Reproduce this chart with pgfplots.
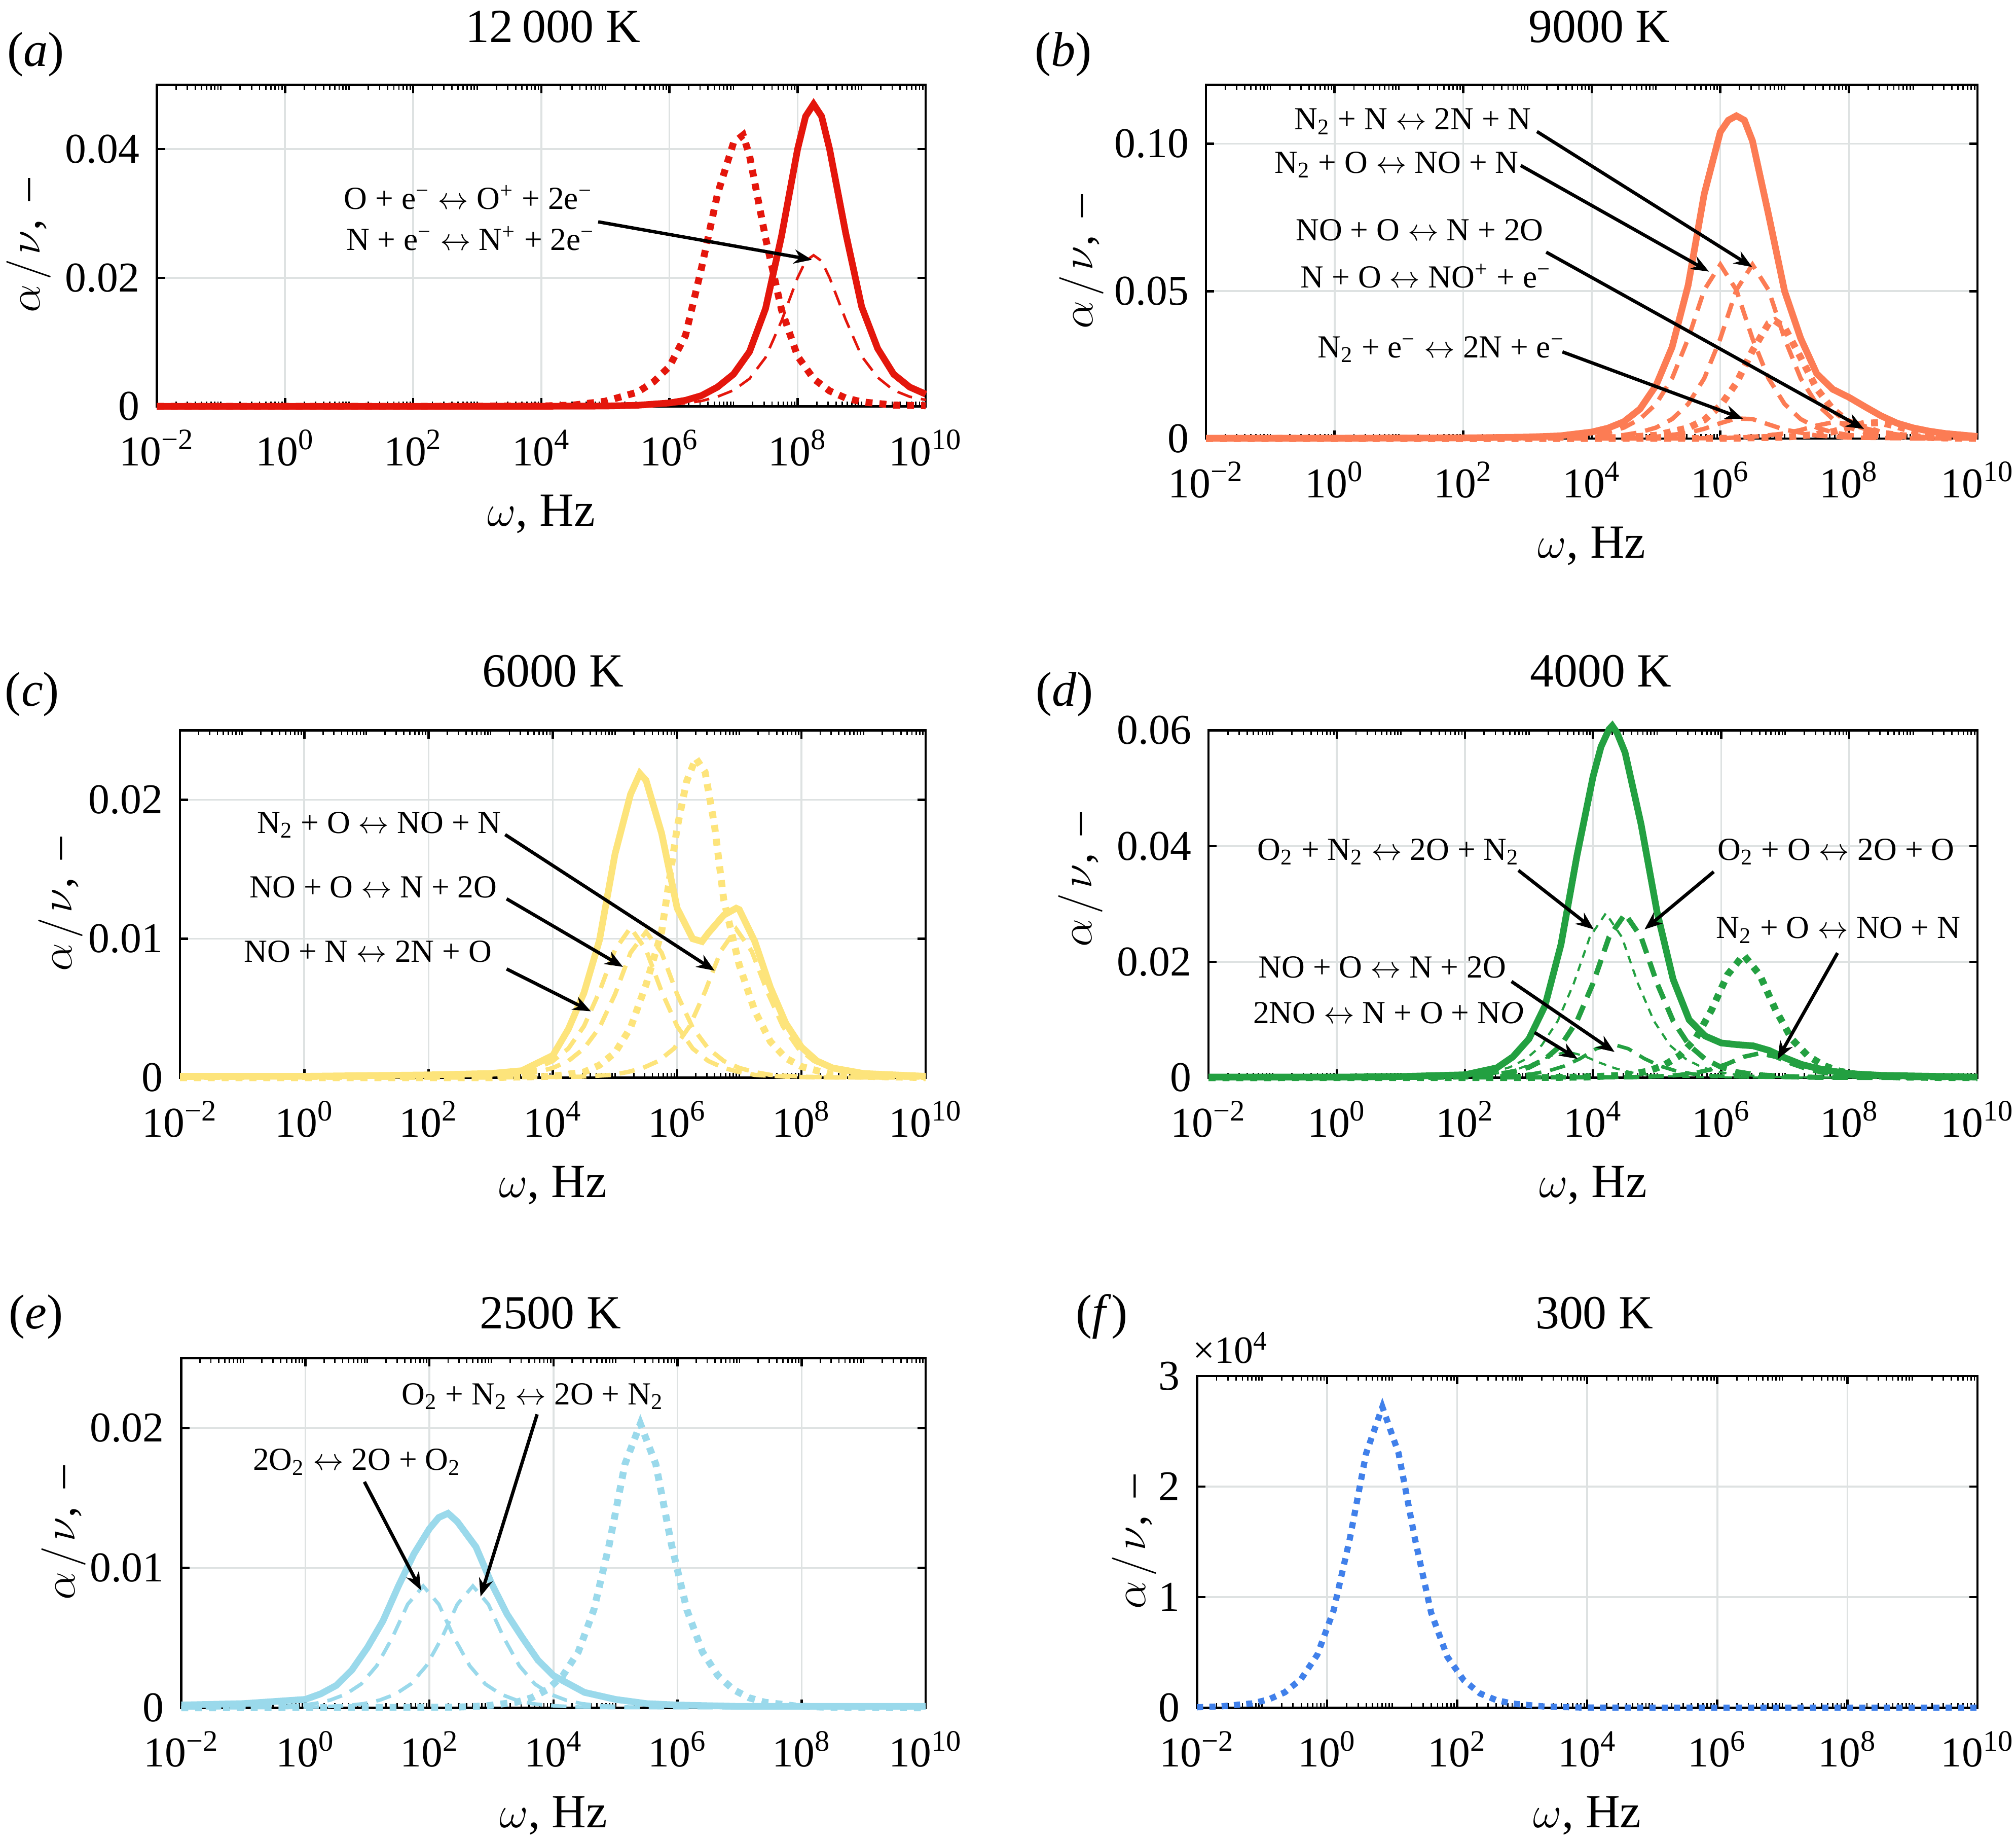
\documentclass[border=0pt]{standalone}
\usepackage{fontspec}
\setmainfont{Liberation Serif}
\usepackage{pgfplots}
\pgfplotsset{compat=1.18}
\usetikzlibrary{arrows.meta}

\definecolor{cA}{RGB}{228,22,12}
\definecolor{cB}{RGB}{252,124,84}
\definecolor{cC}{RGB}{253,228,123}
\definecolor{cD}{RGB}{35,160,65}
\definecolor{cE}{RGB}{154,217,235}
\definecolor{cF}{RGB}{64,128,234}
\definecolor{gridc}{RGB}{222,226,226}

\newcommand\tickfont{\fontsize{16.5}{18}\selectfont}
\newcommand\labfont{\fontsize{18.5}{20}\selectfont}
\newcommand\ylabfont{\fontsize{17.5}{20}\selectfont}
\newcommand\titfont{\fontsize{18.5}{20}\selectfont}
\newcommand\panfont{\fontsize{19}{21}\selectfont}
\newcommand\annfont{\fontsize{12.5}{14}\selectfont}
\newcommand\lr{$\leftrightarrow$}
\newcommand\ylab{$\alpha\mkern2mu/\mkern2mu\nu$,\hspace{0.4em}–}
\newcommand\xlab{$\omega$, Hz}

\tikzset{
  lsol/.style={line width=2.6pt},
  ldot/.style={line width=2.7pt, dash pattern=on 2.7pt off 2.7pt},
  ldsh/.style={line width=1.7pt, dash pattern=on 6pt off 3.5pt},
  ldshthin/.style={line width=1.0pt, dash pattern=on 6pt off 3.5pt},
  ldshthick/.style={line width=2.0pt, dash pattern=on 6pt off 3.5pt},
  lfine/.style={line width=0.85pt, dash pattern=on 3pt off 2.5pt},
  larr/.style={draw=black, line width=1.3pt, -{Stealth[length=7pt,width=5.5pt]}},
  lann/.style={font=\annfont, anchor=base, inner sep=0pt},
}

\begin{document}
\begin{tikzpicture}
\useasboundingbox (0,0) rectangle (784pt,716pt);

\node[font=\titfont, anchor=base] at (215pt,699.6pt) {12\hspace{0.2em}000 K};
\node[font=\titfont, anchor=base] at (622pt,699.6pt) {9000 K};
\node[font=\titfont, anchor=base] at (215pt,449pt) {6000 K};
\node[font=\titfont, anchor=base] at (622.5pt,449pt) {4000 K};
\node[font=\titfont, anchor=base] at (214pt,199.5pt) {2500 K};
\node[font=\titfont, anchor=base] at (620pt,199.5pt) {300 K};
\node[font=\panfont, anchor=base] at (13.9pt,690.3pt) {(\textit{a})};
\node[font=\panfont, anchor=base] at (413.5pt,690.3pt) {(\textit{b})};
\node[font=\panfont, anchor=base] at (12.5pt,441.5pt) {(\textit{c})};
\node[font=\panfont, anchor=base] at (414pt,441.5pt) {(\textit{d})};
\node[font=\panfont, anchor=base] at (14pt,199.5pt) {(\textit{e})};
\node[font=\panfont, anchor=base] at (428.5pt,199.5pt) {(\textit{f})};
\node[font=\fontsize{15}{16}\selectfont, anchor=base] at (478.5pt,186pt) {×10\textsuperscript{4}};

% ---------------- (a) 12000 K ----------------
\begin{axis}[at={(61pt,558pt)}, anchor=south west, width=299pt, height=125pt,
  xmode=log, xmin=1e-2, xmax=1e10, ymin=0, scale only axis, clip=false,
  xtick={1e-2,1,1e2,1e4,1e6,1e8,1e10},
  xticklabels={10\textsuperscript{−2},10\textsuperscript{0},10\textsuperscript{2},10\textsuperscript{4},10\textsuperscript{6},10\textsuperscript{8},10\textsuperscript{10}},
  minor xtick={2e-2,3e-2,4e-2,5e-2,6e-2,7e-2,8e-2,9e-2,1e-1,2e-1,3e-1,4e-1,5e-1,6e-1,7e-1,8e-1,9e-1,2,3,4,5,6,7,8,9,1e1,2e1,3e1,4e1,5e1,6e1,7e1,8e1,9e1,2e2,3e2,4e2,5e2,6e2,7e2,8e2,9e2,1e3,2e3,3e3,4e3,5e3,6e3,7e3,8e3,9e3,2e4,3e4,4e4,5e4,6e4,7e4,8e4,9e4,1e5,2e5,3e5,4e5,5e5,6e5,7e5,8e5,9e5,2e6,3e6,4e6,5e6,6e6,7e6,8e6,9e6,1e7,2e7,3e7,4e7,5e7,6e7,7e7,8e7,9e7,2e8,3e8,4e8,5e8,6e8,7e8,8e8,9e8,1e9,2e9,3e9,4e9,5e9,6e9,7e9,8e9,9e9},
  scaled y ticks=false, grid=major, major grid style={line width=0.7pt, draw=gridc},
  axis line style={line width=0.9pt}, major tick length=3.2pt, minor tick length=1.8pt,
  tick style={line width=0.9pt, black}, minor tick style={line width=0.55pt, black}, tick align=inside,
  ticklabel style={font=\tickfont, inner sep=0pt},
  xticklabel style={anchor=base, yshift=-23pt}, yticklabel style={anchor=east, xshift=-6.5pt},
  xlabel={\xlab}, ylabel={\ylab},
  xlabel style={font=\labfont, at={(axis description cs:0.5,0)}, anchor=base, yshift=-46.5pt},
  ylabel style={font=\ylabfont, anchor=base, at={(axis description cs:-0.152,0.5)}},
  ymax=0.05, ytick={0,0.02,0.04}, yticklabels={0,0.02,0.04}]
\addplot[cA, lsol, mark=none] coordinates {(1e-2,0) (1e2,0) (1e4,0.00002) (1e5,0.00005) (3.162e5,0.00017) (1e6,0.00053) (1.778e6,0.00094) (3.162e6,0.00167) (5.623e6,0.0030) (1e7,0.0050) (1.778e7,0.0085) (3.162e7,0.0152) (5.623e7,0.0265) (1e8,0.0400) (1.334e8,0.0451) (1.778e8,0.0470) (2.371e8,0.0451) (3.162e8,0.0400) (5.623e8,0.0270) (1e9,0.0155) (1.778e9,0.0090) (3.162e9,0.0050) (5.623e9,0.0030) (1e10,0.0019)};
\addplot[cA, ldshthin, mark=none] coordinates {(1e-2,0) (1e4,0.00001) (1e5,0.00003) (3.162e5,0.00009) (1e6,0.00027) (1.778e6,0.00047) (3.162e6,0.00084) (5.623e6,0.0015) (1e7,0.0025) (1.778e7,0.0043) (3.162e7,0.0076) (5.623e7,0.0133) (1e8,0.0200) (1.334e8,0.0226) (1.778e8,0.0235) (2.371e8,0.0226) (3.162e8,0.0200) (5.623e8,0.0135) (1e9,0.0078) (1.778e9,0.0045) (3.162e9,0.0025) (5.623e9,0.0015) (1e10,0.0010)};
\addplot[cA, ldot, mark=none] coordinates {(1e-2,0) (1e2,0) (1e4,0.00005) (3.162e4,0.0002) (1e5,0.0008) (3.162e5,0.0022) (5.623e5,0.0038) (1e6,0.0062) (1.778e6,0.0110) (3.162e6,0.0215) (5.623e6,0.0330) (1e7,0.0410) (1.413e7,0.0422) (1.778e7,0.0390) (3.162e7,0.0262) (5.623e7,0.0150) (1e8,0.0078) (1.778e8,0.0043) (3.162e8,0.0024) (5.623e8,0.0013) (1e9,0.0007) (3.162e9,0.0002) (1e10,0.0001)};
\node[lann] at (rel axis cs:0.405,0.614) {O + e\textsuperscript{−} \lr{} O\textsuperscript{+} + 2e\textsuperscript{−}};
\node[lann] at (rel axis cs:0.408,0.486) {N + e\textsuperscript{−} \lr{} N\textsuperscript{+} + 2e\textsuperscript{−}};
\draw[larr] (rel axis cs:0.574,0.574) -- (rel axis cs:0.852,0.456);
\end{axis}

% ---------------- (b) 9000 K ----------------
\begin{axis}[at={(469pt,545.5pt)}, anchor=south west, width=300pt, height=137.5pt,
  xmode=log, xmin=1e-2, xmax=1e10, ymin=0, scale only axis, clip=false,
  xtick={1e-2,1,1e2,1e4,1e6,1e8,1e10},
  xticklabels={10\textsuperscript{−2},10\textsuperscript{0},10\textsuperscript{2},10\textsuperscript{4},10\textsuperscript{6},10\textsuperscript{8},10\textsuperscript{10}},
  minor xtick={2e-2,3e-2,4e-2,5e-2,6e-2,7e-2,8e-2,9e-2,1e-1,2e-1,3e-1,4e-1,5e-1,6e-1,7e-1,8e-1,9e-1,2,3,4,5,6,7,8,9,1e1,2e1,3e1,4e1,5e1,6e1,7e1,8e1,9e1,2e2,3e2,4e2,5e2,6e2,7e2,8e2,9e2,1e3,2e3,3e3,4e3,5e3,6e3,7e3,8e3,9e3,2e4,3e4,4e4,5e4,6e4,7e4,8e4,9e4,1e5,2e5,3e5,4e5,5e5,6e5,7e5,8e5,9e5,2e6,3e6,4e6,5e6,6e6,7e6,8e6,9e6,1e7,2e7,3e7,4e7,5e7,6e7,7e7,8e7,9e7,2e8,3e8,4e8,5e8,6e8,7e8,8e8,9e8,1e9,2e9,3e9,4e9,5e9,6e9,7e9,8e9,9e9},
  scaled y ticks=false, grid=major, major grid style={line width=0.7pt, draw=gridc},
  axis line style={line width=0.9pt}, major tick length=3.2pt, minor tick length=1.8pt,
  tick style={line width=0.9pt, black}, minor tick style={line width=0.55pt, black}, tick align=inside,
  ticklabel style={font=\tickfont, inner sep=0pt},
  xticklabel style={anchor=base, yshift=-23pt}, yticklabel style={anchor=east, xshift=-6.5pt},
  xlabel={\xlab}, ylabel={\ylab},
  xlabel style={font=\labfont, at={(axis description cs:0.5,0)}, anchor=base, yshift=-46.5pt},
  ylabel style={font=\ylabfont, anchor=base, at={(axis description cs:-0.147,0.5)}},
  ymax=0.12, ytick={0,0.05,0.1}, yticklabels={0,0.05,0.10}]
\addplot[cB, lsol, mark=none] coordinates {(1e-2,0.0001) (1,0.0001) (1e2,0.0002) (1e3,0.0005) (3.162e3,0.0009) (1e4,0.0022) (1.778e4,0.0035) (3.162e4,0.0057) (5.623e4,0.0100) (1e5,0.0180) (1.778e5,0.0310) (3.162e5,0.0520) (5.623e5,0.0830) (1e6,0.1040) (1.334e6,0.1080) (1.778e6,0.1095) (2.371e6,0.1080) (3.162e6,0.1010) (5.623e6,0.0760) (1e7,0.0500) (1.778e7,0.0340) (3.162e7,0.0220) (5.623e7,0.0167) (1e8,0.0140) (1.778e8,0.0108) (3.162e8,0.0077) (5.623e8,0.0052) (1e9,0.0036) (1.778e9,0.0025) (3.162e9,0.0017) (1e10,0.0007)};
\addplot[cB, ldsh, mark=none] coordinates {(1e-2,0) (1e3,0.0001) (3.162e3,0.0004) (1e4,0.0012) (1.778e4,0.0021) (3.162e4,0.0037) (5.623e4,0.0066) (1e5,0.0117) (1.778e5,0.0204) (3.162e5,0.0339) (5.623e5,0.0504) (1e6,0.0590) (1.778e6,0.0504) (3.162e6,0.0339) (5.623e6,0.0204) (1e7,0.0117) (1.778e7,0.0066) (3.162e7,0.0037) (5.623e7,0.0021) (1e8,0.0012) (3.162e8,0.0004) (1e9,0.0001) (1e10,0)};
\addplot[cB, ldsh, mark=none] coordinates {(1e-2,0) (3.162e3,0.0001) (1e4,0.0004) (3.162e4,0.0012) (5.623e4,0.0021) (1e5,0.0037) (1.778e5,0.0066) (3.162e5,0.0117) (5.623e5,0.0204) (1e6,0.0339) (1.778e6,0.0504) (3.162e6,0.0590) (5.623e6,0.0504) (1e7,0.0339) (1.778e7,0.0204) (3.162e7,0.0117) (5.623e7,0.0066) (1e8,0.0037) (1.778e8,0.0021) (3.162e8,0.0012) (1e9,0.0004) (3.162e9,0.0001) (1e10,0)};
\addplot[cB, ldsh, mark=none] coordinates {(1e-2,0) (1e4,0.00005) (3.162e4,0.0002) (1e5,0.0006) (3.162e5,0.0019) (5.623e5,0.0033) (1e6,0.0052) (1.778e6,0.0068) (3.162e6,0.0066) (5.623e6,0.0048) (1e7,0.0030) (3.162e7,0.0010) (1e8,0.0003) (1e9,0.00002) (1e10,0)};
\addplot[cB, ldsh, mark=none] coordinates {(1e-2,0) (1e5,0.00002) (1e6,0.00011) (3.162e6,0.00055) (1e7,0.0017) (1.778e7,0.0029) (3.162e7,0.0044) (5.623e7,0.0055) (1e8,0.0050) (1.778e8,0.0035) (3.162e8,0.0021) (1e9,0.0007) (3.162e9,0.0002) (1e10,0.0001)};
\addplot[cB, ldot, mark=none] coordinates {(1e-2,0) (1e3,0.00003) (1e4,0.0001) (3.162e4,0.00036) (1e5,0.0011) (3.162e5,0.0036) (5.623e5,0.0063) (1e6,0.0111) (1.778e6,0.0188) (3.162e6,0.0298) (5.623e6,0.0390) (7.079e6,0.0400) (1e7,0.0377) (1.778e7,0.0275) (3.162e7,0.0169) (5.623e7,0.0099) (1e8,0.0056) (3.162e8,0.0018) (1e9,0.00056) (3.162e9,0.00018) (1e10,0.00006)};
\addplot[cB, ldot, mark=none] coordinates {(1e-2,0) (1e6,0.00005) (1e7,0.00044) (3.162e7,0.0014) (5.623e7,0.0023) (1e8,0.0038) (1.778e8,0.0052) (3.162e8,0.0054) (5.623e8,0.0041) (1e9,0.0026) (3.162e9,0.0009) (1e10,0.0003)};
\node[lann] at (rel axis cs:0.268,0.873) {N\textsubscript{2} + N \lr{} 2N + N};
\node[lann] at (rel axis cs:0.247,0.7505) {N\textsubscript{2} + O \lr{} NO + N};
\node[lann] at (rel axis cs:0.277,0.559) {NO + O \lr{} N + 2O};
\node[lann] at (rel axis cs:0.285,0.426) {N + O \lr{} NO\textsuperscript{+} + e\textsuperscript{−}};
\node[lann] at (rel axis cs:0.305,0.229) {N\textsubscript{2} + e\textsuperscript{−} \lr{} 2N + e\textsuperscript{−}};
\draw[larr] (rel axis cs:0.429,0.868) -- (rel axis cs:0.708,0.485);
\draw[larr] (rel axis cs:0.408,0.772) -- (rel axis cs:0.652,0.472);
\draw[larr] (rel axis cs:0.441,0.527) -- (rel axis cs:0.853,0.027);
\draw[larr] (rel axis cs:0.462,0.245) -- (rel axis cs:0.696,0.056);
\end{axis}

% ---------------- (c) 6000 K ----------------
\begin{axis}[at={(70pt,297pt)}, anchor=south west, width=290pt, height=135pt,
  xmode=log, xmin=1e-2, xmax=1e10, ymin=0, scale only axis, clip=false,
  xtick={1e-2,1,1e2,1e4,1e6,1e8,1e10},
  xticklabels={10\textsuperscript{−2},10\textsuperscript{0},10\textsuperscript{2},10\textsuperscript{4},10\textsuperscript{6},10\textsuperscript{8},10\textsuperscript{10}},
  minor xtick={2e-2,3e-2,4e-2,5e-2,6e-2,7e-2,8e-2,9e-2,1e-1,2e-1,3e-1,4e-1,5e-1,6e-1,7e-1,8e-1,9e-1,2,3,4,5,6,7,8,9,1e1,2e1,3e1,4e1,5e1,6e1,7e1,8e1,9e1,2e2,3e2,4e2,5e2,6e2,7e2,8e2,9e2,1e3,2e3,3e3,4e3,5e3,6e3,7e3,8e3,9e3,2e4,3e4,4e4,5e4,6e4,7e4,8e4,9e4,1e5,2e5,3e5,4e5,5e5,6e5,7e5,8e5,9e5,2e6,3e6,4e6,5e6,6e6,7e6,8e6,9e6,1e7,2e7,3e7,4e7,5e7,6e7,7e7,8e7,9e7,2e8,3e8,4e8,5e8,6e8,7e8,8e8,9e8,1e9,2e9,3e9,4e9,5e9,6e9,7e9,8e9,9e9},
  scaled y ticks=false, grid=major, major grid style={line width=0.7pt, draw=gridc},
  axis line style={line width=0.9pt}, major tick length=3.2pt, minor tick length=1.8pt,
  tick style={line width=0.9pt, black}, minor tick style={line width=0.55pt, black}, tick align=inside,
  ticklabel style={font=\tickfont, inner sep=0pt},
  xticklabel style={anchor=base, yshift=-23pt}, yticklabel style={anchor=east, xshift=-6.5pt},
  xlabel={\xlab}, ylabel={\ylab},
  xlabel style={font=\labfont, at={(axis description cs:0.5,0)}, anchor=base, yshift=-46.5pt},
  ylabel style={font=\ylabfont, anchor=base, at={(axis description cs:-0.145,0.5)}},
  ymax=0.025, ytick={0,0.01,0.02}, yticklabels={0,0.01,0.02}]
\addplot[cC, lsol, mark=none] coordinates {(1e-2,0.0001) (1,0.0001) (1e2,0.0002) (1e3,0.0003) (3.162e3,0.0005) (1e4,0.0016) (1.778e4,0.0035) (3.162e4,0.0061) (5.623e4,0.0099) (1e5,0.0161) (1.778e5,0.0204) (2.512e5,0.0219) (3.162e5,0.0214) (5.623e5,0.0176) (1e6,0.0122) (1.778e6,0.0100) (2.512e6,0.0098) (3.162e6,0.0104) (5.623e6,0.0117) (8.913e6,0.0122) (1e7,0.0121) (1.778e7,0.0098) (3.162e7,0.0065) (5.623e7,0.0039) (1e8,0.0022) (1.778e8,0.0012) (3.162e8,0.0007) (1e9,0.0003) (1e10,0.0001)};
\addplot[cC, ldsh, mark=none] coordinates {(1e-2,0) (1e2,0.00002) (1.778e3,0.0002) (3.162e3,0.0004) (5.623e3,0.0007) (1e4,0.0012) (1.778e4,0.0021) (3.162e4,0.0037) (5.623e4,0.0062) (1e5,0.0092) (1.778e5,0.0108) (3.162e5,0.0092) (5.623e5,0.0062) (1e6,0.0037) (1.778e6,0.0021) (3.162e6,0.0012) (5.623e6,0.0007) (1e7,0.0004) (1.778e7,0.0002) (5.623e7,0.00007) (1.778e8,0.00002) (1e10,0)};
\addplot[cC, ldsh, mark=none] coordinates {(1e-2,0) (1e2,0.00001) (3.162e3,0.0002) (5.623e3,0.0004) (1e4,0.0007) (1.778e4,0.0012) (3.162e4,0.0021) (5.623e4,0.0036) (1e5,0.0060) (1.778e5,0.0090) (3.162e5,0.0105) (5.623e5,0.0090) (1e6,0.0060) (1.778e6,0.0036) (3.162e6,0.0021) (5.623e6,0.0012) (1e7,0.0007) (1.778e7,0.0004) (3.162e7,0.0002) (1e8,0.00007) (3.162e8,0.00002) (1e10,0)};
\addplot[cC, ldsh, mark=none] coordinates {(1e-2,0) (1e3,0.00001) (2.818e4,0.00007) (8.913e4,0.0002) (1.585e5,0.0004) (2.818e5,0.0007) (5.012e5,0.0012) (8.913e5,0.0021) (1.585e6,0.0037) (2.818e6,0.0062) (5.012e6,0.0091) (8.913e6,0.0107) (1.585e7,0.0091) (2.818e7,0.0062) (5.012e7,0.0037) (8.913e7,0.0021) (1.585e8,0.0012) (2.818e8,0.0007) (5.012e8,0.0004) (8.913e8,0.0002) (2.818e9,0.00007) (1e10,0.00002)};
\addplot[cC, ldot, mark=none] coordinates {(1e-2,0) (1e3,0) (1e4,0.0001) (3.162e4,0.0004) (5.623e4,0.0009) (1e5,0.0018) (1.778e5,0.0036) (3.162e5,0.0067) (5.623e5,0.0105) (1e6,0.0180) (1.413e6,0.0213) (1.995e6,0.0230) (2.818e6,0.0220) (3.981e6,0.0182) (5.623e6,0.0128) (1e7,0.0081) (1.778e7,0.0048) (3.162e7,0.0026) (5.623e7,0.0014) (1e8,0.0008) (3.162e8,0.0002) (1e9,0.0001) (1e10,0)};
\node[lann] at (rel axis cs:0.267,0.704) {N\textsubscript{2} + O \lr{} NO + N};
\node[lann] at (rel axis cs:0.259,0.519) {NO + O \lr{} N + 2O};
\node[lann] at (rel axis cs:0.252,0.333) {NO + N \lr{} 2N + O};
\draw[larr] (rel axis cs:0.436,0.700) -- (rel axis cs:0.717,0.308);
\draw[larr] (rel axis cs:0.438,0.515) -- (rel axis cs:0.594,0.319);
\draw[larr] (rel axis cs:0.438,0.313) -- (rel axis cs:0.551,0.191);
\end{axis}

% ---------------- (d) 4000 K ----------------
\begin{axis}[at={(470pt,297pt)}, anchor=south west, width=299pt, height=135pt,
  xmode=log, xmin=1e-2, xmax=1e10, ymin=0, scale only axis, clip=false,
  xtick={1e-2,1,1e2,1e4,1e6,1e8,1e10},
  xticklabels={10\textsuperscript{−2},10\textsuperscript{0},10\textsuperscript{2},10\textsuperscript{4},10\textsuperscript{6},10\textsuperscript{8},10\textsuperscript{10}},
  minor xtick={2e-2,3e-2,4e-2,5e-2,6e-2,7e-2,8e-2,9e-2,1e-1,2e-1,3e-1,4e-1,5e-1,6e-1,7e-1,8e-1,9e-1,2,3,4,5,6,7,8,9,1e1,2e1,3e1,4e1,5e1,6e1,7e1,8e1,9e1,2e2,3e2,4e2,5e2,6e2,7e2,8e2,9e2,1e3,2e3,3e3,4e3,5e3,6e3,7e3,8e3,9e3,2e4,3e4,4e4,5e4,6e4,7e4,8e4,9e4,1e5,2e5,3e5,4e5,5e5,6e5,7e5,8e5,9e5,2e6,3e6,4e6,5e6,6e6,7e6,8e6,9e6,1e7,2e7,3e7,4e7,5e7,6e7,7e7,8e7,9e7,2e8,3e8,4e8,5e8,6e8,7e8,8e8,9e8,1e9,2e9,3e9,4e9,5e9,6e9,7e9,8e9,9e9},
  scaled y ticks=false, grid=major, major grid style={line width=0.7pt, draw=gridc},
  axis line style={line width=0.9pt}, major tick length=3.2pt, minor tick length=1.8pt,
  tick style={line width=0.9pt, black}, minor tick style={line width=0.55pt, black}, tick align=inside,
  ticklabel style={font=\tickfont, inner sep=0pt},
  xticklabel style={anchor=base, yshift=-23pt}, yticklabel style={anchor=east, xshift=-6.5pt},
  xlabel={\xlab}, ylabel={\ylab},
  xlabel style={font=\labfont, at={(axis description cs:0.5,0)}, anchor=base, yshift=-46.5pt},
  ylabel style={font=\ylabfont, anchor=base, at={(axis description cs:-0.152,0.57)}},
  ymax=0.06, ytick={0,0.02,0.04,0.06}, yticklabels={0,0.02,0.04,0.06}]
\addplot[cD, lsol, mark=none] coordinates {(1e-2,0.0001) (1,0.0001) (1e1,0.0002) (1e2,0.0005) (3.162e2,0.0017) (5.623e2,0.0036) (1e3,0.0067) (1.778e3,0.0124) (3.162e3,0.0230) (5.623e3,0.0384) (1e4,0.0520) (1.334e4,0.0572) (1.778e4,0.0602) (1.995e4,0.0608) (2.371e4,0.0596) (3.162e4,0.0562) (5.623e4,0.0438) (1e5,0.0286) (1.778e5,0.0170) (3.162e5,0.0100) (5.623e5,0.0072) (1e6,0.0060) (1.778e6,0.0057) (3.162e6,0.0055) (5.623e6,0.0047) (1e7,0.0034) (1.778e7,0.0023) (3.162e7,0.0016) (5.623e7,0.0011) (1e8,0.0007) (3.162e8,0.0004) (1e9,0.0003) (1e10,0.0001)};
\addplot[cD, lfine, mark=none] coordinates {(1e-2,0) (1,0.00001) (1.585e1,0.00006) (5.012e1,0.00018) (1.585e2,0.00057) (2.818e2,0.0010) (5.012e2,0.0018) (8.913e2,0.0032) (1.585e3,0.0056) (2.818e3,0.0098) (5.012e3,0.0163) (8.913e3,0.0243) (1.585e4,0.0284) (2.818e4,0.0243) (5.012e4,0.0163) (8.913e4,0.0098) (1.585e5,0.0056) (2.818e5,0.0032) (5.012e5,0.0018) (8.913e5,0.0010) (1.585e6,0.00057) (5.012e6,0.00018) (1.585e7,0.00006) (1e10,0)};
\addplot[cD, ldshthick, mark=none] coordinates {(1e-2,0) (3.162e1,0.00006) (1e2,0.00018) (3.162e2,0.00057) (5.623e2,0.0010) (1e3,0.0018) (1.778e3,0.0032) (3.162e3,0.0056) (5.623e3,0.0098) (1e4,0.0163) (1.778e4,0.0243) (3.162e4,0.0283) (5.623e4,0.0243) (1e5,0.0163) (1.778e5,0.0098) (3.162e5,0.0056) (5.623e5,0.0032) (1e6,0.0018) (1.778e6,0.0010) (3.162e6,0.00057) (1e7,0.00018) (3.162e7,0.00006) (1e10,0)};
\addplot[cD, ldsh, line width=1.4pt, mark=none] coordinates {(1e-2,0) (1.995e2,0.00012) (6.310e2,0.00037) (1.122e3,0.00065) (1.995e3,0.00115) (3.548e3,0.0020) (6.310e3,0.0033) (1.122e4,0.0050) (1.995e4,0.0058) (3.548e4,0.0050) (6.310e4,0.0033) (1.122e5,0.0020) (1.995e5,0.00115) (3.548e5,0.00065) (6.310e5,0.00037) (1.995e6,0.00012) (1.995e7,0.00004) (1e10,0)};
\addplot[cD, lfine, mark=none] coordinates {(1e-2,0) (3.981e1,0.00009) (1.259e2,0.00028) (2.239e2,0.0005) (3.981e2,0.0009) (7.079e2,0.0016) (1.259e3,0.0026) (2.239e3,0.0038) (3.981e3,0.0045) (7.079e3,0.0038) (1.259e4,0.0026) (2.239e4,0.0016) (3.981e4,0.0009) (7.079e4,0.0005) (1.259e5,0.00028) (3.981e5,0.00009) (3.981e6,0.00001) (1e10,0)};
\addplot[cD, ldsh, mark=none] coordinates {(1e-2,0) (3.981e4,0.00008) (1.259e5,0.00027) (2.239e5,0.00047) (3.981e5,0.00083) (7.079e5,0.00145) (1.259e6,0.0024) (2.239e6,0.0036) (3.981e6,0.0042) (7.079e6,0.0036) (1.259e7,0.0024) (2.239e7,0.00145) (3.981e7,0.00083) (7.079e7,0.00047) (1.259e8,0.00027) (3.981e8,0.00008) (1e10,0)};
\addplot[cD, ldot, mark=none] coordinates {(1e-2,0) (2.239e3,0.00003) (7.079e3,0.0001) (2.239e4,0.00034) (3.981e4,0.0006) (7.079e4,0.0011) (1.259e5,0.0021) (2.239e5,0.0038) (3.981e5,0.0067) (7.079e5,0.0117) (1.259e6,0.0178) (2.239e6,0.0212) (3.981e6,0.0178) (7.079e6,0.0117) (1.259e7,0.0067) (2.239e7,0.0038) (3.981e7,0.0021) (7.079e7,0.0011) (1.259e8,0.0006) (2.239e8,0.00034) (7.079e8,0.0001) (2.239e9,0.00003) (1e10,0)};
\node[lann] at (rel axis cs:0.234,0.627) {O\textsubscript{2} + N\textsubscript{2} \lr{} 2O + N\textsubscript{2}};
\node[lann] at (rel axis cs:0.816,0.627) {O\textsubscript{2} + O \lr{} 2O + O};
\node[lann] at (rel axis cs:0.819,0.401) {N\textsubscript{2} + O \lr{} NO + N};
\node[lann] at (rel axis cs:0.226,0.288) {NO + O \lr{} N + 2O};
\node[lann] at (rel axis cs:0.234,0.156) {2NO \lr{} N + O + N\textit{O}};
\draw[larr] (rel axis cs:0.403,0.597) -- (rel axis cs:0.501,0.427);
\draw[larr] (rel axis cs:0.657,0.593) -- (rel axis cs:0.567,0.427);
\draw[larr] (rel axis cs:0.818,0.359) -- (rel axis cs:0.740,0.053);
\draw[larr] (rel axis cs:0.394,0.277) -- (rel axis cs:0.528,0.074);
\draw[larr] (rel axis cs:0.424,0.130) -- (rel axis cs:0.480,0.054);
\end{axis}

% ---------------- (e) 2500 K ----------------
\begin{axis}[at={(70.5pt,52pt)}, anchor=south west, width=289.5pt, height=136pt,
  xmode=log, xmin=1e-2, xmax=1e10, ymin=0, scale only axis, clip=false,
  xtick={1e-2,1,1e2,1e4,1e6,1e8,1e10},
  xticklabels={10\textsuperscript{−2},10\textsuperscript{0},10\textsuperscript{2},10\textsuperscript{4},10\textsuperscript{6},10\textsuperscript{8},10\textsuperscript{10}},
  minor xtick={2e-2,3e-2,4e-2,5e-2,6e-2,7e-2,8e-2,9e-2,1e-1,2e-1,3e-1,4e-1,5e-1,6e-1,7e-1,8e-1,9e-1,2,3,4,5,6,7,8,9,1e1,2e1,3e1,4e1,5e1,6e1,7e1,8e1,9e1,2e2,3e2,4e2,5e2,6e2,7e2,8e2,9e2,1e3,2e3,3e3,4e3,5e3,6e3,7e3,8e3,9e3,2e4,3e4,4e4,5e4,6e4,7e4,8e4,9e4,1e5,2e5,3e5,4e5,5e5,6e5,7e5,8e5,9e5,2e6,3e6,4e6,5e6,6e6,7e6,8e6,9e6,1e7,2e7,3e7,4e7,5e7,6e7,7e7,8e7,9e7,2e8,3e8,4e8,5e8,6e8,7e8,8e8,9e8,1e9,2e9,3e9,4e9,5e9,6e9,7e9,8e9,9e9},
  scaled y ticks=false, grid=major, major grid style={line width=0.7pt, draw=gridc},
  axis line style={line width=0.9pt}, major tick length=3.2pt, minor tick length=1.8pt,
  tick style={line width=0.9pt, black}, minor tick style={line width=0.55pt, black}, tick align=inside,
  ticklabel style={font=\tickfont, inner sep=0pt},
  xticklabel style={anchor=base, yshift=-23pt}, yticklabel style={anchor=east, xshift=-6.5pt},
  xlabel={\xlab}, ylabel={\ylab},
  xlabel style={font=\labfont, at={(axis description cs:0.5,0)}, anchor=base, yshift=-46.5pt},
  ylabel style={font=\ylabfont, anchor=base, at={(axis description cs:-0.143,0.5)}},
  ymax=0.025, ytick={0,0.01,0.02}, yticklabels={0,0.01,0.02}]
\addplot[cE, lsol, mark=none] coordinates {(1e-2,0.0002) (1e-1,0.0003) (1,0.0006) (1.778,0.0010) (3.162,0.0016) (5.623,0.0027) (1e1,0.0043) (1.778e1,0.0062) (3.162e1,0.0087) (5.623e1,0.0110) (1e2,0.0128) (1.413e2,0.0136) (1.995e2,0.0139) (2.818e2,0.0133) (5.623e2,0.0115) (1e3,0.0089) (1.778e3,0.0067) (3.162e3,0.0050) (5.623e3,0.0034) (1e4,0.0023) (3.162e4,0.0011) (1e5,0.0006) (3.162e5,0.0003) (1e6,0.0002) (1e7,0.0001) (1e10,0.0001)};
\addplot[cE, ldsh, line width=1.4pt, mark=none] coordinates {(1e-2,0) (7.943e-2,0.00002) (2.512e-1,0.000055) (7.943e-1,0.00017) (1.413,0.0003) (2.512,0.00055) (4.467,0.00097) (7.943,0.0017) (1.413e1,0.0030) (2.512e1,0.0050) (4.467e1,0.0074) (7.943e1,0.0087) (1.413e2,0.0074) (2.512e2,0.0050) (4.467e2,0.0030) (7.943e2,0.0017) (1.413e3,0.00097) (2.512e3,0.00055) (4.467e3,0.0003) (7.943e3,0.00017) (2.512e4,0.000055) (7.943e4,0.00002) (1e10,0)};
\addplot[cE, ldsh, line width=1.4pt, mark=none] coordinates {(1e-2,0) (5.012e-1,0.00002) (1.585,0.000055) (5.012,0.00017) (8.913,0.0003) (1.585e1,0.00055) (2.818e1,0.00097) (5.012e1,0.0017) (8.913e1,0.0030) (1.585e2,0.0050) (2.818e2,0.0074) (5.012e2,0.0087) (8.913e2,0.0074) (1.585e3,0.0050) (2.818e3,0.0030) (5.012e3,0.0017) (8.913e3,0.00097) (1.585e4,0.00055) (2.818e4,0.0003) (5.012e4,0.00017) (1.585e5,0.000055) (5.012e5,0.00002) (1e10,0)};
\addplot[cE, ldot, mark=none] coordinates {(1e-2,0) (2.512e2,0.00004) (7.943e2,0.00013) (2.512e3,0.0004) (4.467e3,0.00072) (7.943e3,0.0013) (1.413e4,0.0023) (2.512e4,0.0040) (4.467e4,0.0070) (7.943e4,0.0117) (1.413e5,0.0174) (2.512e5,0.0203) (4.467e5,0.0174) (7.943e5,0.0117) (1.413e6,0.0070) (2.512e6,0.0040) (4.467e6,0.0023) (7.943e6,0.0013) (1.413e7,0.00072) (2.512e7,0.0004) (7.943e7,0.00013) (2.512e8,0.00004) (1e10,0)};
\node[lann] at (rel axis cs:0.472,0.867) {O\textsubscript{2} + N\textsubscript{2} \lr{} 2O + N\textsubscript{2}};
\node[lann] at (rel axis cs:0.236,0.679) {2O\textsubscript{2} \lr{} 2O + O\textsubscript{2}};
\draw[larr] (rel axis cs:0.246,0.646) -- (rel axis cs:0.322,0.336);
\draw[larr] (rel axis cs:0.478,0.839) -- (rel axis cs:0.402,0.318);
\end{axis}

% ---------------- (f) 300 K ----------------
\begin{axis}[at={(465.5pt,52pt)}, anchor=south west, width=303.5pt, height=129pt,
  xmode=log, xmin=1e-2, xmax=1e10, ymin=0, scale only axis, clip=false,
  xtick={1e-2,1,1e2,1e4,1e6,1e8,1e10},
  xticklabels={10\textsuperscript{−2},10\textsuperscript{0},10\textsuperscript{2},10\textsuperscript{4},10\textsuperscript{6},10\textsuperscript{8},10\textsuperscript{10}},
  minor xtick={2e-2,3e-2,4e-2,5e-2,6e-2,7e-2,8e-2,9e-2,1e-1,2e-1,3e-1,4e-1,5e-1,6e-1,7e-1,8e-1,9e-1,2,3,4,5,6,7,8,9,1e1,2e1,3e1,4e1,5e1,6e1,7e1,8e1,9e1,2e2,3e2,4e2,5e2,6e2,7e2,8e2,9e2,1e3,2e3,3e3,4e3,5e3,6e3,7e3,8e3,9e3,2e4,3e4,4e4,5e4,6e4,7e4,8e4,9e4,1e5,2e5,3e5,4e5,5e5,6e5,7e5,8e5,9e5,2e6,3e6,4e6,5e6,6e6,7e6,8e6,9e6,1e7,2e7,3e7,4e7,5e7,6e7,7e7,8e7,9e7,2e8,3e8,4e8,5e8,6e8,7e8,8e8,9e8,1e9,2e9,3e9,4e9,5e9,6e9,7e9,8e9,9e9},
  scaled y ticks=false, grid=major, major grid style={line width=0.7pt, draw=gridc},
  axis line style={line width=0.9pt}, major tick length=3.2pt, minor tick length=1.8pt,
  tick style={line width=0.9pt, black}, minor tick style={line width=0.55pt, black}, tick align=inside,
  ticklabel style={font=\tickfont, inner sep=0pt},
  xticklabel style={anchor=base, yshift=-23pt}, yticklabel style={anchor=east, xshift=-6.5pt},
  xlabel={\xlab}, ylabel={\ylab},
  xlabel style={font=\labfont, at={(axis description cs:0.5,0)}, anchor=base, yshift=-46.5pt},
  ylabel style={font=\ylabfont, anchor=base, at={(axis description cs:-0.066,0.5)}},
  ymax=30000, ytick={0,10000,20000,30000}, yticklabels={0,1,2,3}]
\addplot[cF, line width=2.4pt, dash pattern=on 2.4pt off 2.4pt, mark=none] coordinates {(1e-2,50) (2.239e-2,120) (7.079e-2,400) (1.259e-1,750) (2.239e-1,1400) (3.981e-1,2600) (7.079e-1,4800) (1.259,8800) (2.239,15300) (3.981,23000) (7.079,27200) (1.259e1,23000) (2.239e1,15300) (3.981e1,8600) (7.079e1,4600) (1.259e2,2500) (2.239e2,1300) (3.981e2,700) (7.079e2,380) (2.239e3,110) (7.079e3,30) (7.079e4,3) (1e10,0)};
\end{axis}
\end{tikzpicture}
\end{document}
